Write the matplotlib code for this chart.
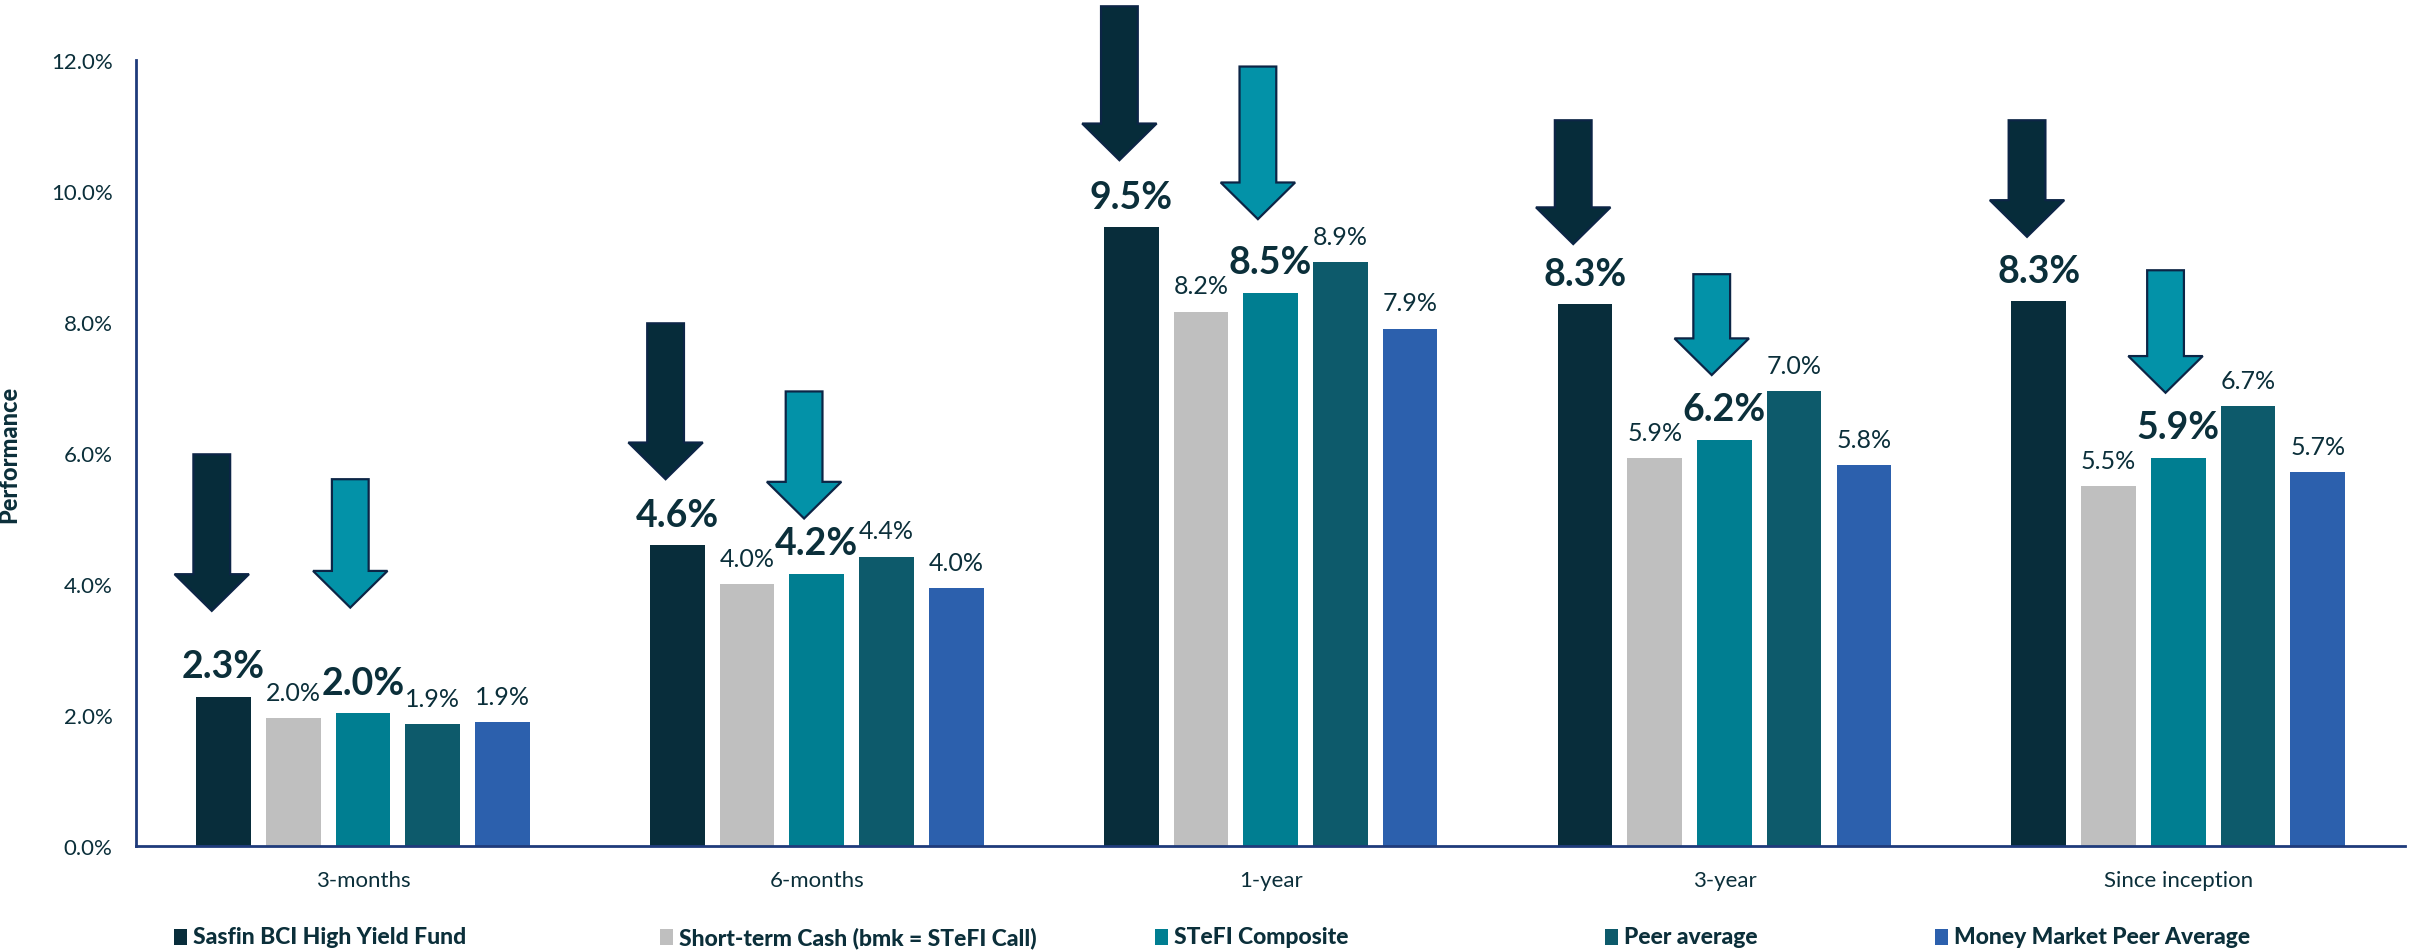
import matplotlib
matplotlib.use('Agg')
import matplotlib.pyplot as plt
from matplotlib.patches import Polygon, Rectangle
import numpy as np

# --- datos (rentabilidad en %) ---
categories = ['3-months', '6-months', '1-year', '3-year', 'Since inception']
series_names = ['Sasfin BCI High Yield Fund', 'Short-term Cash (bmk = STeFI Call)',
                'STeFI Composite', 'Peer average', 'Money Market Peer Average']
sasfin = [2.28, 4.59, 9.45, 8.27, 8.32]
short_cash = [1.96, 4.00, 8.16, 5.92, 5.50]
stefi_comp = [2.03, 4.16, 8.45, 6.20, 5.93]
peer_avg = [1.86, 4.42, 8.92, 6.94, 6.72]
mm_peer = [1.90, 3.94, 7.90, 5.81, 5.71]
labels = [['2.3%', '4.6%', '9.5%', '8.3%', '8.3%'],
          ['2.0%', '4.0%', '8.2%', '5.9%', '5.5%'],
          ['2.0%', '4.2%', '8.5%', '6.2%', '5.9%'],
          ['1.9%', '4.4%', '8.9%', '7.0%', '6.7%'],
          ['1.9%', '4.0%', '7.9%', '5.8%', '5.7%']]
yticks = [0, 2, 4, 6, 8, 10, 12]

# flechas de resalte: arranque y punta (en %)
arrow_sasfin_top = [5.98, 7.98, 12.82, 11.08, 11.08]
arrow_sasfin_tip = [3.59, 5.60, 10.47, 9.19, 9.30]
arrow_stefi_top = [5.60, 6.94, 11.90, 8.73, 8.79]
arrow_stefi_tip = [3.64, 5.00, 9.57, 7.19, 6.92]

values = [sasfin, short_cash, stefi_comp, peer_avg, mm_peer]
colors = ['#082d3b', '#bfbfbf', '#007e91', '#0d5a6b', '#2c60ad']
bold_series = [0, 2]
TXT = '#0b2f3a'
SPINE = '#1f3b7b'
ARROW_EDGE = '#0c2546'

plt.rcParams['font.family'] = ['Lato', 'DejaVu Sans']

fig = plt.figure(figsize=(24.17, 9.53), dpi=100)
ax = fig.add_axes([0.0563, 0.1112, 0.9388, 0.8248])

x = np.arange(len(categories))
pitch, bw = 0.1536, 0.1205

for j, (vals, col) in enumerate(zip(values, colors)):
    xs = x + (j - 2) * pitch
    ax.bar(xs, vals, width=bw, color=col, zorder=2)
    for xi, v, lab in zip(xs, vals, labels[j]):
        if j in bold_series:
            ax.annotate(lab, (xi, v), xytext=(0, 14), textcoords='offset points',
                        ha='center', va='baseline', fontsize=27, fontweight='bold', color=TXT)
        else:
            ax.annotate(lab, (xi, v), xytext=(0, 13), textcoords='offset points',
                        ha='center', va='baseline', fontsize=18, color=TXT)


def flecha(cx, top, tip, face):
    sw, hw, hl = 0.0405, 0.082, 0.56
    pts = [(cx - sw, top), (cx + sw, top), (cx + sw, tip + hl), (cx + hw, tip + hl),
           (cx, tip), (cx - hw, tip + hl), (cx - sw, tip + hl)]
    ax.add_patch(Polygon(pts, closed=True, facecolor=face, edgecolor=ARROW_EDGE,
                         linewidth=1.6, clip_on=False, zorder=5))


for i in range(len(categories)):
    flecha(i - 2 * pitch - 0.026, arrow_sasfin_top[i], arrow_sasfin_tip[i], '#062c3a')
    flecha(i - 0.028, arrow_stefi_top[i], arrow_stefi_tip[i], '#0392a8')

ax.set_xlim(-0.5, 4.5)
ax.set_ylim(0, 12)
ax.set_yticks(yticks)
ax.set_yticklabels([f'{t:.1f}%' for t in yticks], fontsize=16, color=TXT)
ax.set_xticks(x)
ax.set_xticklabels(categories, fontsize=16, color=TXT)
ax.tick_params(axis='y', length=0, pad=17)
ax.tick_params(axis='x', length=0, pad=17)
for s in ['top', 'right']:
    ax.spines[s].set_visible(False)
for s in ['left', 'bottom']:
    ax.spines[s].set_color(SPINE)
    ax.spines[s].set_linewidth(2)
ax.set_ylabel('Performance', fontsize=17, fontweight='black', color=TXT)
ax.yaxis.set_label_coords(-0.051, 0.5)

# leyenda manual (posiciones como en el original)
leg_x = [174, 660, 1155, 1605, 1935]
W, H = 2417.0, 953.0
for name, col, lx in zip(series_names, colors, leg_x):
    fig.add_artist(Rectangle((lx / W, (H - 946) / H), 13 / W, 16 / H,
                             transform=fig.transFigure, facecolor=col, edgecolor='none'))
    fig.text((lx + 19) / W, (H - 938) / H, name, fontsize=16.5, fontweight='black', color=TXT,
             va='center', ha='left')

plt.savefig('out.png', dpi=100)
plt.close()
